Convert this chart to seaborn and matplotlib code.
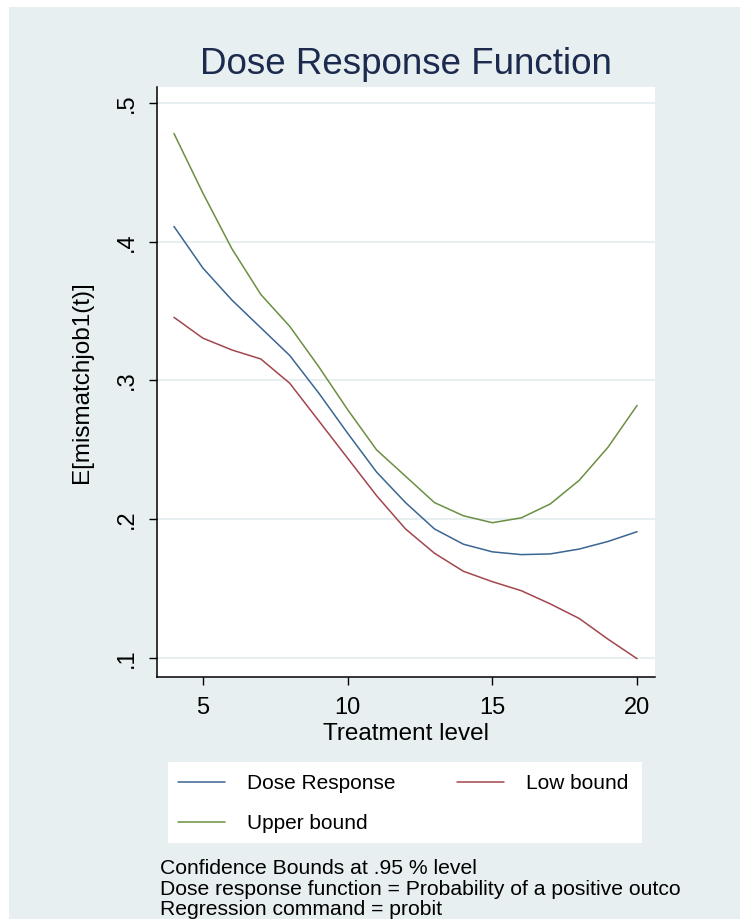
import numpy as np
import pandas as pd
import matplotlib
matplotlib.use("Agg")
import matplotlib.pyplot as plt
import seaborn as sns
from matplotlib.patches import Rectangle
from matplotlib.lines import Line2D

# ---------------- data ----------------
treatment = [4, 5, 6, 7, 8, 9, 10, 11, 12, 13, 14, 15, 16, 17, 18, 19, 20]
dose_response = [0.411, 0.381, 0.358, 0.338, 0.318, 0.291, 0.262, 0.234, 0.212,
                 0.193, 0.182, 0.1765, 0.1745, 0.175, 0.1785, 0.184, 0.191]
low_bound = [0.3455, 0.3305, 0.322, 0.3155, 0.298, 0.271, 0.244, 0.217, 0.193,
             0.1755, 0.1625, 0.155, 0.1485, 0.139, 0.1285, 0.1135, 0.0995]
upper_bound = [0.478, 0.435, 0.395, 0.362, 0.339, 0.310, 0.279, 0.250, 0.231,
               0.212, 0.2025, 0.1975, 0.201, 0.211, 0.228, 0.252, 0.282]
series_names = ["Dose Response", "Low bound", "Upper bound"]
xticks = [5, 10, 15, 20]
yticks = [0.1, 0.2, 0.3, 0.4, 0.5]
ytick_labels = [".1", ".2", ".3", ".4", ".5"]
title = "Dose Response Function"
xlabel = "Treatment level"
ylabel = "E[mismatchjob1(t)]"
notes = ["Confidence Bounds at .95 % level",
         "Dose response function = Probability of a positive outco",
         "Regression command = probit"]

# ---------------- styling ----------------
BG = "#E8EFF1"
colors = {"Dose Response": "#3B6592", "Low bound": "#A2464D", "Upper bound": "#6A8F42"}

sns.set_theme(style="white")
plt.rcParams["font.family"] = ["Liberation Sans", "DejaVu Sans"]

W, H = 740, 919
fig = plt.figure(figsize=(W / 100, H / 100), dpi=100)
fig.patch.set_facecolor("white")
fig.patches.append(Rectangle((9 / W, 0), 1 - 9 / W, 1 - 7 / H, transform=fig.transFigure,
                             facecolor=BG, edgecolor="none", zorder=-5))

ax = fig.add_axes([157 / W, (H - 677) / H, (655 - 157) / W, (677 - 87) / H])
ax.set_zorder(1)
ax.set_facecolor("white")

df = pd.DataFrame({
    "t": treatment * 3,
    "value": dose_response + low_bound + upper_bound,
    "series": [series_names[0]] * len(treatment) + [series_names[1]] * len(treatment)
              + [series_names[2]] * len(treatment),
})
sns.lineplot(data=df, x="t", y="value", hue="series", palette=colors, ax=ax,
             linewidth=1.1, legend=False, sort=False)

ax.set_xlim(3.414, 20.62)
ax.set_ylim(0.0863, 0.5115)
ax.set_xticks(xticks)
ax.set_xticklabels([str(v) for v in xticks])
ax.set_yticks(yticks)
ax.set_yticklabels(ytick_labels, rotation=90, va="center")

ax.set_axisbelow(True)
ax.yaxis.grid(True, color=BG, linewidth=1.5)
ax.xaxis.grid(False)
for s in ["top", "right"]:
    ax.spines[s].set_visible(False)
for s in ["left", "bottom"]:
    ax.spines[s].set_visible(True)
    ax.spines[s].set_color("black")
    ax.spines[s].set_linewidth(1.1)

ax.tick_params(axis="both", which="major", bottom=True, left=True, direction="out",
               length=6, width=1, color="black", labelsize=17, labelcolor="black")
ax.tick_params(axis="x", pad=8.5)
ax.tick_params(axis="y", pad=8)

ax.set_xlabel(xlabel, fontsize=17.5, color="black", labelpad=3)
ax.set_ylabel(ylabel, fontsize=17.5, color="black", labelpad=16)

fig.text(406 / W, 1 - 74 / H, title, ha="center", va="baseline",
         fontsize=26.5, color="#1C2A4E")

# legend box
fig.patches.append(Rectangle((168 / W, 1 - 843 / H), (642 - 168) / W, (843 - 762) / H,
                             transform=fig.transFigure, facecolor="white",
                             edgecolor="none", zorder=-4))
order = ["Dose Response", "Upper bound", "Low bound"]
handles = [Line2D([0], [0], color=colors[n], linewidth=1.1) for n in order]
leg = fig.legend(handles, order, ncol=2, loc="upper left",
                 bbox_to_anchor=(178 / W, 1 - 774 / H), frameon=False, fontsize=15,
                 handlelength=2.25, handletextpad=1.05, columnspacing=2.98,
                 labelspacing=1.0, borderpad=0, borderaxespad=0)
for t in leg.get_texts():
    t.set_color("black")

# notes
for txt, yb in zip(notes, [874, 895, 915]):
    fig.text(160 / W, 1 - yb / H, txt, ha="left", va="baseline", fontsize=15.2,
             color="black")

fig.savefig("out.png", dpi=100, facecolor=fig.get_facecolor())
